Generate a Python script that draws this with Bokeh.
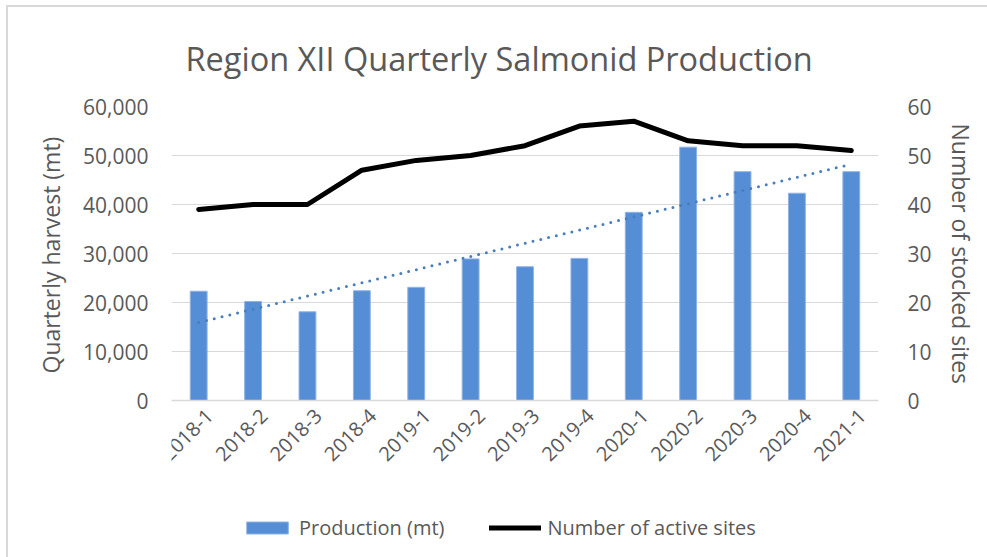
from math import pi
import numpy as np
from bokeh.plotting import figure
from bokeh.models import (Range1d, LinearAxis, NumeralTickFormatter, FixedTicker, Span, Title,
                          Legend, LegendItem, ColumnDataSource, FactorRange)
from bokeh.core.properties import value
from bokeh.embed import file_html
from bokeh.resources import INLINE

quarters = ["2018-1", "2018-2", "2018-3", "2018-4", "2019-1", "2019-2", "2019-3",
            "2019-4", "2020-1", "2020-2", "2020-3", "2020-4", "2021-1"]
production_mt = [22300, 20200, 18100, 22400, 23100, 28900, 27300,
                 29000, 38400, 51700, 46700, 42300, 46700]
active_sites = [39, 40, 40, 47, 49, 50, 52, 56, 57, 53, 52, 52, 51]
left_ticks = [0, 10000, 20000, 30000, 40000, 50000, 60000]
right_ticks = [0, 10, 20, 30, 40, 50, 60]

# Linear trendline of production (as in the original spreadsheet chart)
idx = np.arange(len(production_mt))
slope, intercept = np.polyfit(idx, production_mt, 1)
trend = list(intercept + slope * idx)

src = ColumnDataSource(dict(q=quarters, prod=production_mt, sites=active_sites, trend=trend))

TXT = "#595959"
FONT = "Open Sans"

# frame: 294 px for the value span, plus 146 px below zero for category labels and legend
SPAN_PX, EXTRA_PX = 294, 146
y_lo = -60000 * EXTRA_PX / SPAN_PX
s_lo = -60 * EXTRA_PX / SPAN_PX

p = figure(x_range=FactorRange(*quarters), y_range=Range1d(y_lo, 60000),
           frame_width=707, frame_height=SPAN_PX + EXTRA_PX,
           output_backend="svg", toolbar_location=None, x_axis_location=None,
           min_border_left=163, min_border_right=109, min_border_top=98, min_border_bottom=12)
p.extra_y_ranges = {"sites": Range1d(s_lo, 60)}
p.outline_line_color = None
p.styles = {"border-left": "2px solid #d9d9d9", "border-top": "2px solid #d9d9d9",
            "margin-left": "6px", "margin-top": "5px"}

p.title.text = "Region XII Quarterly Salmonid Production"
p.title.align = "left"
p.title.offset = 14
p.title.standoff = 52
p.title.text_font = FONT
p.title.text_font_size = "32.5px"
p.title.text_font_style = "normal"
p.title.text_color = TXT

bars = p.vbar(x="q", top="prod", bottom=0, width=0.31, source=src,
              fill_color="#558ED5", line_color="#8fb4e3", line_width=1)
p.line(x="q", y="trend", source=src, line_color="#4a7ebb", line_width=3,
       line_dash="0 8", line_cap="round")
line = p.line(x="q", y="sites", source=src, y_range_name="sites",
              line_color="black", line_width=5, line_cap="round", line_join="round")

# category labels under the baseline
p.text(x="q", y=0, text="q", source=src, angle=pi / 4,
       text_align=value("right"), text_baseline=value("middle"),
       x_offset=11, y_offset=12, text_font=value(FONT), text_font_size=value("20px"),
       text_color=TXT)

p.xgrid.grid_line_color = None
lt = FixedTicker(ticks=left_ticks)
p.ygrid.ticker = lt
p.ygrid.grid_line_color = "#d9d9d9"
p.ygrid.grid_line_width = 1
p.add_layout(Span(location=0, dimension="width", line_color="#d9d9d9", line_width=1.5))

ly = p.yaxis[0]
ly.ticker = lt
ly.formatter = NumeralTickFormatter(format="0,0")
ly.major_label_standoff = 17

ry = LinearAxis(y_range_name="sites", ticker=FixedTicker(ticks=right_ticks))
ry.major_label_standoff = 23
p.add_layout(ry, "right")

for ax in (ly, ry):
    ax.axis_line_color = None
    ax.major_tick_line_color = None
    ax.minor_tick_line_color = None
    ax.major_label_text_font = FONT
    ax.major_label_text_font_size = "21px"
    ax.major_label_text_color = TXT

left_title = Title(text="Quarterly harvest (mt)", align="left", offset=173, standoff=28,
                   text_font=FONT, text_font_size="23px", text_font_style="normal",
                   text_color=TXT)
p.add_layout(left_title, "left")
right_title = Title(text="Number of stocked sites", align="left", offset=17, standoff=20,
                    text_font=FONT, text_font_size="23px", text_font_style="normal",
                    text_color=TXT)
p.add_layout(right_title, "right")

legend = Legend(items=[LegendItem(label="Production (mt)", renderers=[bars]),
                       LegendItem(label="Number of active sites", renderers=[line])],
                orientation="horizontal", location=(70, 5), spacing=45,
                glyph_width=52, glyph_height=15, label_standoff=6,
                label_text_font=FONT, label_text_font_size="20px", label_text_color=TXT,
                border_line_color=None, background_fill_alpha=0, margin=0, padding=4)
p.add_layout(legend)

open("out.html", "w").write(file_html(p, INLINE))
